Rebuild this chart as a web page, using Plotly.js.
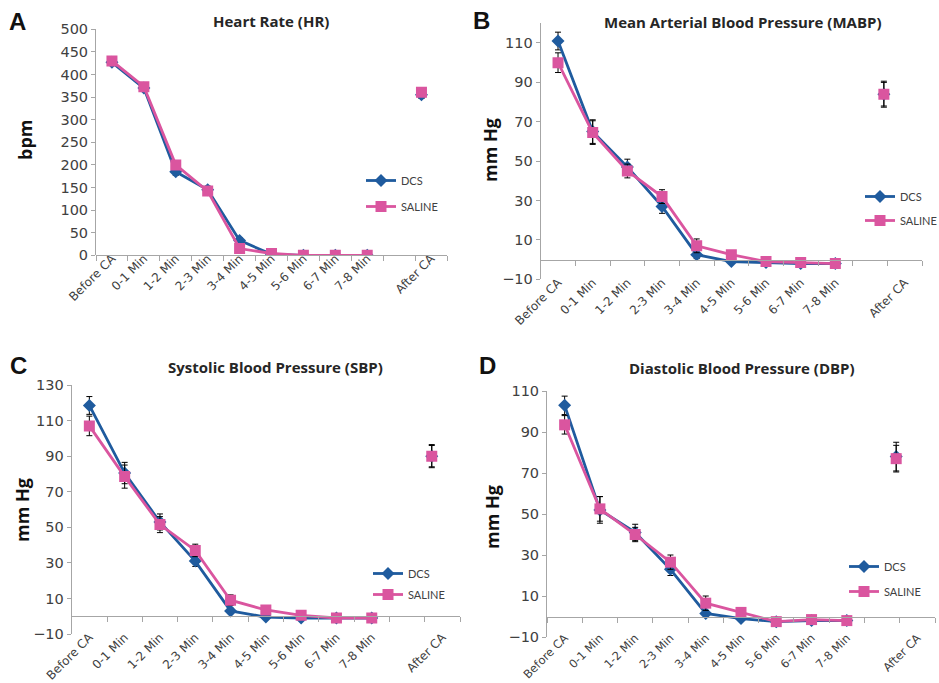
<!DOCTYPE html>
<html>
<head>
<meta charset="utf-8">
<script src="https://cdn.plot.ly/plotly-3.0.1.min.js"></script>
<style>html,body{margin:0;padding:0;background:#fff;}#chart{width:939px;height:683px;}</style>
</head>
<body>
<div id="chart"></div>
<script>
// ---- categories / tick labels ----
const categories = ["Before CA","0-1 Min","1-2 Min","2-3 Min","3-4 Min","4-5 Min","5-6 Min","6-7 Min","7-8 Min","","After CA"];
const timeCategories = categories.slice(0, 9);

// ---- Panel A: Heart Rate (bpm) ----
const hrDCS        = [427, 370, 185, 145, 33, 2, 0, 0, 0];
const hrDCSErr     = [6, 6, 8, 8, 6, 2, 0, 0, 0];
const hrSaline     = [430, 373, 200, 142, 15, 4, 0, 0, 0];
const hrSalineErr  = [6, 6, 8, 6, 4, 2, 0, 0, 0];
const hrAfterDCS = 355, hrAfterDCSErr = 8, hrAfterSaline = 361, hrAfterSalineErr = 7;

// ---- Panel B: MABP (mm Hg) ----
const mabpDCS       = [111, 65, 47, 27, 2.5, -1, -1.5, -2, -2];
const mabpDCSErr    = [4.5, 6, 4, 3.5, 2, 1, 0.5, 0.5, 0.5];
const mabpSaline    = [100, 64.5, 45, 32, 7, 2.5, -1, -1.5, -2];
const mabpSalineErr = [5, 6, 3.5, 3.5, 3.5, 2, 0.5, 0.5, 0.5];
const mabpAfterDCS = 84, mabpAfterDCSErr = 6, mabpAfterSaline = 84, mabpAfterSalineErr = 6.6;

// ---- Panel C: SBP (mm Hg) ----
const sbpDCS       = [118.5, 80.5, 53, 31, 3, -0.5, -1, -1, -1];
const sbpDCSErr    = [5, 6, 4.5, 3, 1.5, 0.5, 0.5, 0.5, 0.5];
const sbpSaline    = [107, 78.5, 51.5, 37, 9, 3.5, 0.5, -1, -1];
const sbpSalineErr = [5.5, 6.5, 4.5, 3.5, 3, 1.5, 1, 0.5, 0.5];
const sbpAfterDCS = 90, sbpAfterDCSErr = 6, sbpAfterSaline = 90, sbpAfterSalineErr = 6.5;

// ---- Panel D: DBP (mm Hg) ----
const dbpDCS       = [103, 52, 41, 23, 1.5, -1, -2.5, -2, -2];
const dbpDCSErr    = [4.5, 6.5, 4, 3, 1, 0.5, 0.5, 0.5, 0.5];
const dbpSaline    = [93.5, 52.5, 40, 26.5, 6.5, 2, -2.5, -1.5, -2];
const dbpSalineErr = [4.5, 6, 3.5, 3.5, 3.5, 1.5, 0.5, 0.5, 0.5];
const dbpAfterDCS = 78, dbpAfterDCSErr = 7, dbpAfterSaline = 77, dbpAfterSalineErr = 6.5;

// After-CA point position along the category axis (as drawn in the source)
const afterCAPos = [9.7, 9.4, 9.7, 9.4];

const panelTitles = ["Heart Rate (HR)", "Mean Arterial Blood Pressure (MABP)", "Systolic Blood Pressure (SBP)", "Diastolic Blood Pressure (DBP)"];
const panelLetters = ["A", "B", "C", "D"];
const yTitles = ["bpm", "mm Hg", "mm Hg", "mm Hg"];
const seriesNames = ["DCS", "SALINE"];

// ---- styling / layout geometry ----
const W = 939, H = 683;
const BLUE = "#1F5B9E", PINK = "#DA559F", AXIS = "#A6A6A6", TICKTXT = "#404040";
const FONT = "Lato, 'Open Sans', sans-serif";
const TICKFONT = "'DejaVu Sans', sans-serif";
const TITLEFONT = "'Open Sans', Lato, sans-serif";

const panels = [
  {dcs: hrDCS, dcsErr: hrDCSErr, sal: hrSaline, salErr: hrSalineErr,
   aDcs: hrAfterDCS, aDcsErr: hrAfterDCSErr, aSal: hrAfterSaline, aSalErr: hrAfterSalineErr,
   px: [96, 447], py: [29.3, 255.3], range: [0, 500], tick0: 0, dtick: 50, xfont: 12, xoff: -7,
   title: [271, 21], letter: [17, 21], ytitle: [25, 140], legend: [400, 177, 203]},
  {dcs: mabpDCS, dcsErr: mabpDCSErr, sal: mabpSaline, salErr: mabpSalineErr,
   aDcs: mabpAfterDCS, aDcsErr: mabpAfterDCSErr, aSal: mabpAfterSaline, aSalErr: mabpAfterSalineErr,
   px: [540.7, 922], py: [23.3, 279.3], range: [-10, 120], tick0: -10, dtick: 20, xfont: 12, xoff: -7,
   title: [743, 22], letter: [482, 20], ytitle: [490, 150], legend: [899, 193, 217]},
  {dcs: sbpDCS, dcsErr: sbpDCSErr, sal: sbpSaline, salErr: sbpSalineErr,
   aDcs: sbpAfterDCS, aDcsErr: sbpAfterDCSErr, aSal: sbpAfterSaline, aSalErr: sbpAfterSalineErr,
   px: [71.7, 460], py: [385, 634], range: [-10, 130], tick0: -10, dtick: 20, xfont: 12, xoff: -7,
   title: [275, 367], letter: [18, 365], ytitle: [22, 510], legend: [407, 570, 591]},
  {dcs: dbpDCS, dcsErr: dbpDCSErr, sal: dbpSaline, salErr: dbpSalineErr,
   aDcs: dbpAfterDCS, aDcsErr: dbpAfterDCSErr, aSal: dbpAfterSaline, aSalErr: dbpAfterSalineErr,
   px: [547, 935], py: [391, 637], range: [-10, 110], tick0: -10, dtick: 20, xfont: 11.5, xoff: -9,
   title: [742, 368], letter: [487, 365], ytitle: [492, 517], legend: [883, 563, 588]}
];

const catIdx = timeCategories.map((_, i) => i);
const tickIdx = categories.map((c, i) => i).filter(i => categories[i] !== "");
const tickTxt = tickIdx.map(i => categories[i]);
const boundaries = categories.map((_, i) => i - 0.5).concat([categories.length - 0.5]);

const traces = [];
const layout = {
  width: W, height: H, margin: {l: 0, r: 0, t: 0, b: 0, autoexpand: false},
  paper_bgcolor: "#fff", plot_bgcolor: "rgba(0,0,0,0)",
  font: {family: FONT, color: TICKTXT},
  showlegend: true, annotations: []
};

panels.forEach((p, k) => {
  const n = k + 1, sfx = n === 1 ? "" : String(n);
  const xa = "x" + sfx, ya = "y" + sfx;
  const legName = n === 1 ? "legend" : "legend" + n;
  const dom = [p.px[0] / W, p.px[1] / W];
  const ydom = [1 - p.py[1] / H, 1 - p.py[0] / H];
  const zeroPos = ydom[0] + (0 - p.range[0]) / (p.range[1] - p.range[0]) * (ydom[1] - ydom[0]);

  const errStyle = (arr) => ({type: "data", array: arr, visible: true, color: "#000", thickness: 1, width: 3});
  const dcsStyle = {line: {color: BLUE, width: 2.8}, marker: {symbol: "diamond", size: 10, color: BLUE}};
  const salStyle = {line: {color: PINK, width: 2.8}, marker: {symbol: "square", size: 11, color: PINK}};

  traces.push(Object.assign({type: "scatter", mode: "lines+markers", name: seriesNames[0], x: catIdx, y: p.dcs,
    error_y: errStyle(p.dcsErr), xaxis: xa, yaxis: ya, legend: legName, legendgroup: "dcs" + n}, dcsStyle));
  traces.push(Object.assign({type: "scatter", mode: "markers", name: seriesNames[0], x: [afterCAPos[k]], y: [p.aDcs],
    error_y: errStyle([p.aDcsErr]), xaxis: xa, yaxis: ya, showlegend: false, legendgroup: "dcs" + n}, dcsStyle));
  traces.push(Object.assign({type: "scatter", mode: "lines+markers", name: seriesNames[1], x: catIdx, y: p.sal,
    error_y: errStyle(p.salErr), xaxis: xa, yaxis: ya, legend: legName, legendgroup: "sal" + n}, salStyle));
  traces.push(Object.assign({type: "scatter", mode: "markers", name: seriesNames[1], x: [afterCAPos[k]], y: [p.aSal],
    error_y: errStyle([p.aSalErr]), xaxis: xa, yaxis: ya, showlegend: false, legendgroup: "sal" + n}, salStyle));

  // helper trace for the category axis drawn at y = 0
  const ox = "x" + (n + 4);
  traces.push({type: "scatter", mode: "markers", x: [null], y: [null], xaxis: ox, yaxis: ya, showlegend: false, hoverinfo: "skip"});

  layout["xaxis" + sfx] = {
    domain: dom, anchor: ya, range: [-0.5, categories.length - 0.5],
    tickmode: "array", tickvals: tickIdx, ticktext: tickTxt, tickangle: -45,
    showline: false, showgrid: false, zeroline: false, ticks: "", ticklabelstandoff: p.xoff,
    tickfont: {family: TICKFONT, size: p.xfont, color: TICKTXT}, fixedrange: true
  };
  layout["xaxis" + (n + 4)] = {
    overlaying: xa, anchor: "free", position: zeroPos, range: [-0.5, categories.length - 0.5],
    tickmode: "array", tickvals: boundaries, showticklabels: false,
    showline: true, linecolor: AXIS, linewidth: 1, ticks: "outside", ticklen: 5, tickcolor: AXIS,
    showgrid: false, zeroline: false, fixedrange: true
  };
  layout["yaxis" + sfx] = {
    domain: ydom, anchor: xa, range: p.range, tick0: p.tick0, dtick: p.dtick, tickmode: "linear",
    showline: true, linecolor: AXIS, linewidth: 1, ticks: "outside", ticklen: 4, tickcolor: AXIS,
    showgrid: false, zeroline: false, tickfont: {family: TICKFONT, size: 14.5, color: TICKTXT}, fixedrange: true
  };
  layout[legName] = {
    x: (p.legend[0] - 39) / W, xanchor: "left", y: 1 - (p.legend[1] - 11) / H, yanchor: "top",
    bgcolor: "rgba(0,0,0,0)", borderwidth: 0, traceorder: "grouped",
    tracegroupgap: Math.max(0, (p.legend[2] - p.legend[1]) - 19),
    font: {family: FONT, size: 11, color: TICKTXT}, itemwidth: 30
  };

  layout.annotations.push({text: "<b>" + panelTitles[k] + "</b>", xref: "paper", yref: "paper",
    x: p.title[0] / W, y: 1 - p.title[1] / H, xanchor: "center", yanchor: "middle", showarrow: false,
    font: {family: TITLEFONT, size: 15, color: "#262626"}});
  layout.annotations.push({text: "<b>" + panelLetters[k] + "</b>", xref: "paper", yref: "paper",
    x: p.letter[0] / W, y: 1 - p.letter[1] / H, xanchor: "center", yanchor: "middle", showarrow: false,
    font: {family: "'Liberation Sans', Arial, sans-serif", size: 24, color: "#111"}});
  layout.annotations.push({text: "<b>" + yTitles[k] + "</b>", xref: "paper", yref: "paper",
    x: p.ytitle[0] / W, y: 1 - p.ytitle[1] / H, xanchor: "center", yanchor: "middle", showarrow: false,
    textangle: -90, font: {family: TITLEFONT, size: 18, color: "#111"}});
});

Plotly.newPlot("chart", traces, layout, {displayModeBar: false, staticPlot: true});
</script>
</body>
</html>
